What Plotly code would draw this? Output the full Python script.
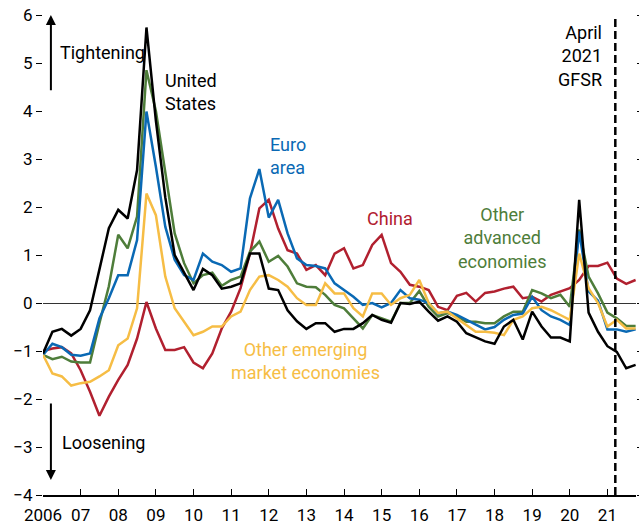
import pandas as pd
import plotly.graph_objects as go

# quarterly observations, 2006:Q1 - 2021:Q4
quarters = pd.period_range("2006Q1", "2021Q4", freq="Q")
x_years = [q.year + (q.quarter - 1) / 4 for q in quarters]

united_states = [
    -1.05, -0.6, -0.54, -0.68, -0.54, -0.15, 0.7, 1.56, 1.94, 1.76, 2.77, 5.74,
    3.8, 2.2, 1.0, 0.62, 0.27, 0.71, 0.58, 0.3, 0.34, 0.41, 1.03, 1.03,
    0.3, 0.27, -0.15, -0.38, -0.54, -0.42, -0.42, -0.6, -0.54, -0.54, -0.42, -0.25,
    -0.35, -0.41, 0.0, -0.02, 0.03, -0.18, -0.37, -0.28, -0.39, -0.63, -0.72, -0.8,
    -0.85, -0.49, -0.35, -0.76, -0.18, -0.49, -0.72, -0.72, -0.8, 2.15, -0.2, -0.6,
    -0.9, -1.02, -1.36, -1.29,
]
euro_area = [
    -1.08, -0.85, -0.92, -1.08, -1.1, -1.05, -0.32, 0.1, 0.58, 0.58, 1.31, 3.99,
    2.84, 1.59, 0.9, 0.58, 0.48, 1.03, 0.86, 0.79, 0.65, 0.72, 2.18, 2.79,
    1.78, 2.15, 1.45, 0.93, 0.79, 0.77, 0.72, 0.41, 0.27, 0.13, -0.04, 0.0,
    -0.09, 0.0, 0.27, 0.1, 0.07, 0.0, -0.22, -0.18, -0.25, -0.35, -0.46, -0.55,
    -0.5, -0.35, -0.25, -0.22, 0.13, -0.15, -0.28, -0.35, -0.46, 1.49, 0.24, 0.05,
    -0.55, -0.55, -0.6, -0.55,
]
other_advanced = [
    -1.08, -1.17, -1.12, -1.22, -1.24, -1.24, -0.42, 0.35, 1.42, 1.14, 1.8, 4.85,
    4.0, 2.7, 1.45, 0.83, 0.41, 0.58, 0.63, 0.36, 0.48, 0.55, 1.07, 1.28,
    0.86, 0.98, 0.76, 0.41, 0.34, 0.33, 0.17, -0.04, -0.11, -0.32, -0.53, -0.25,
    -0.32, -0.39, 0.0, 0.0, 0.25, -0.08, -0.28, -0.21, -0.28, -0.39, -0.39, -0.42,
    -0.42, -0.28, -0.18, -0.18, 0.27, 0.2, 0.1, 0.17, -0.08, 1.53, 0.55, 0.2,
    -0.2, -0.32, -0.48, -0.48,
]
other_emerging = [
    -1.08, -1.47, -1.53, -1.72, -1.67, -1.64, -1.53, -1.4, -0.88, -0.74, -0.11, 2.28,
    1.83, 0.55, -0.11, -0.39, -0.67, -0.6, -0.49, -0.49, -0.28, -0.18, 0.27, 0.55,
    0.58, 0.48, 0.34, 0.1, -0.04, -0.04, 0.41, 0.2, 0.2, -0.11, -0.28, 0.2,
    0.2, -0.04, 0.1, 0.17, 0.48, 0.0, -0.21, -0.18, -0.32, -0.46, -0.6, -0.6,
    -0.62, -0.67, -0.35, -0.28, -0.11, -0.08, -0.15, -0.25, -0.35, 1.03, 0.31, 0.0,
    -0.49, -0.35, -0.53, -0.53,
]
china = [
    -1.0, -0.95, -0.92, -1.05, -1.4, -1.85, -2.35, -1.95, -1.6, -1.29, -0.74, 0.02,
    -0.53, -0.98, -0.98, -0.92, -1.24, -1.36, -1.05, -0.53, -0.18, 0.31, 1.03, 1.97,
    2.15, 1.55, 1.1, 1.03, 0.69, 0.79, 0.58, 1.03, 1.14, 0.72, 0.79, 1.21,
    1.42, 0.83, 0.65, 0.38, 0.34, 0.27, -0.08, -0.15, 0.15, 0.21, 0.03, 0.21,
    0.24, 0.3, 0.34, 0.1, 0.13, 0.03, 0.17, 0.24, 0.31, 0.48, 0.77, 0.77,
    0.84, 0.51, 0.4, 0.48,
]

year_ticks = list(range(2006, 2022))
year_labels = ["2006"] + [f"{y % 100:02d}" for y in year_ticks[1:]]
y_ticks = list(range(-4, 7))
gfsr_date = 2021.21

FONT = "Roboto, Arial, sans-serif"
BLACK = "#000000"
BLUE = "#0a69b4"
RED = "#b1202f"
GREEN = "#4e7d3a"
YELLOW = "#f6bd45"

series = [
    ("China", china, RED),
    ("Other advanced economies", other_advanced, GREEN),
    ("Euro area", euro_area, BLUE),
    ("Other emerging market economies", other_emerging, YELLOW),
    ("United States", united_states, BLACK),
]

fig = go.Figure()
for name, values, colour in series:
    fig.add_trace(go.Scatter(x=x_years, y=values, mode="lines", name=name,
                             line=dict(color=colour, width=2.5)))

# April 2021 GFSR marker
fig.add_shape(type="line", x0=gfsr_date, x1=gfsr_date, y0=-4, y1=5.95, xref="x", yref="y",
              line=dict(color=BLACK, width=2.5, dash="8px,4px"))

labels = [
    ("United<br>States", 2009.19, 4.4, "left", BLACK),
    ("Euro<br>area", 2011.98, 3.06, "left", BLUE),
    ("China", 2014.56, 1.77, "left", RED),
    ("Other<br>advanced<br>economies", 2018.2, 1.35, "center", GREEN),
    ("Other emerging<br>market economies", 2012.97, -1.21, "center", YELLOW),
    ("April<br>2021<br>GFSR", 2020.9, 5.15, "right", BLACK),
    ("Tightening", 2006.4, 5.21, "left", BLACK),
    ("Loosening", 2006.45, -2.9, "left", BLACK),
]
for text, x, y, anchor, colour in labels:
    fig.add_annotation(x=x, y=y, text=text, showarrow=False, xanchor=anchor, yanchor="middle",
                       align=anchor, font=dict(color=colour, size=18))

# direction arrows
fig.add_annotation(x=2006.21, y=6.0, ax=2006.21, ay=4.4, axref="x", ayref="y", text="",
                   showarrow=True, arrowhead=2, arrowsize=1, arrowwidth=2, arrowcolor=BLACK)
fig.add_annotation(x=2006.21, y=-3.69, ax=2006.21, ay=-2.06, axref="x", ayref="y", text="",
                   showarrow=True, arrowhead=2, arrowsize=1, arrowwidth=2, arrowcolor=BLACK)

fig.update_xaxes(range=[2006, 2021.76], tickvals=year_ticks, ticktext=year_labels,
                 ticks="inside", ticklen=6, tickcolor=BLACK, showline=True, linecolor=BLACK,
                 linewidth=1.5, showgrid=False, zeroline=False, automargin=False,
                 ticklabelstandoff=4, tickfont=dict(size=17, color=BLACK))
fig.update_yaxes(range=[-4, 6], tickvals=y_ticks, ticks="outside", ticklen=6, tickcolor=BLACK,
                 mirror="ticks", showline=False, showgrid=False, zeroline=True, automargin=False,
                 zerolinecolor="#333333", zerolinewidth=1, tickfont=dict(size=17, color=BLACK))
fig.update_layout(width=639, height=526, margin=dict(l=43, r=3, t=15, b=31),
                  plot_bgcolor="white", paper_bgcolor="white", showlegend=False,
                  font=dict(family=FONT, color=BLACK))

# the page's default body margin would shift the chart; remove it
fig.write_html("out.html", config={"displayModeBar": False},
               post_script="document.body.style.margin='0px';")
